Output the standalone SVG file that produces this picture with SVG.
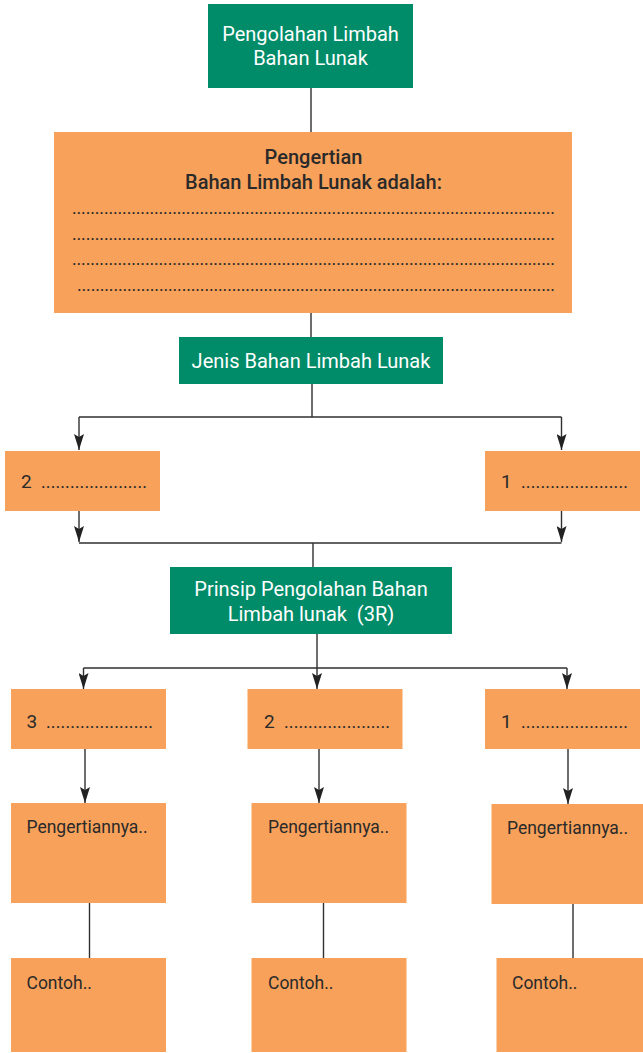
<svg xmlns="http://www.w3.org/2000/svg" width="643" height="1053" viewBox="0 0 643 1053">
<style>
.g{fill:#008b69}
.o{fill:#f7a15a}
.tw{fill:#ffffff;font-family:Roboto,"Liberation Sans",sans-serif;font-size:20px;text-anchor:middle}
.td{fill:#2a2a2a;font-family:Roboto,"Liberation Sans",sans-serif;font-size:20px;font-weight:500;text-anchor:middle}
.ts{fill:#2a2a2a;font-family:Roboto,"Liberation Sans",sans-serif;font-size:17.5px}
.tn{fill:#2a2a2a;font-family:Roboto,"Liberation Sans",sans-serif;font-size:19px}
.dots{fill:#2a2a2a;font-family:Roboto,"Liberation Sans",sans-serif;font-size:18px}
.c{fill:none;stroke:#2f2f2f;stroke-width:1.4}
</style>
<defs>
<marker id="ah" viewBox="0 0 16 10" refX="16" refY="5" markerWidth="16" markerHeight="10" markerUnits="userSpaceOnUse" orient="auto">
<path d="M0,0 L3,5 L0,10 L16,5 Z" fill="#222"/>
</marker>
</defs>
<g id="connectors">
<path class="c" d="M311 88 V132"/>
<path class="c" d="M311 313 V337"/>
<path class="c" d="M312 384 V417"/>
<path class="c" d="M79 417 H561.5"/>
<path class="c" d="M79 417 V450" marker-end="url(#ah)"/>
<path class="c" d="M561.5 417 V450" marker-end="url(#ah)"/>
<path class="c" d="M79 511 V542" marker-end="url(#ah)"/>
<path class="c" d="M561.5 511 V542" marker-end="url(#ah)"/>
<path class="c" d="M79 543 H561.5"/>
<path class="c" d="M313 543 V567"/>
<path class="c" d="M317 634 V689" marker-end="url(#ah)"/>
<path class="c" d="M83.5 668 H567"/>
<path class="c" d="M83.5 668 V689" marker-end="url(#ah)"/>
<path class="c" d="M567 668 V689" marker-end="url(#ah)"/>
<path class="c" d="M85 749 V803" marker-end="url(#ah)"/>
<path class="c" d="M319 749 V803" marker-end="url(#ah)"/>
<path class="c" d="M568 749 V804" marker-end="url(#ah)"/>
<path class="c" d="M89.5 903 V958"/>
<path class="c" d="M323.5 903 V958"/>
<path class="c" d="M573 904 V958"/>
</g>
<g id="n-title">
<rect class="g" x="208" y="4" width="205" height="84"/>
<text class="tw" x="310.5" y="41">Pengolahan Limbah</text>
<text class="tw" x="310.5" y="65">Bahan Lunak</text>
</g>
<g id="n-pengertian">
<rect class="o" x="54" y="132" width="518" height="181"/>
<text class="td" x="313.5" y="163.5">Pengertian</text>
<text class="td" x="313.5" y="188.5">Bahan Limbah Lunak adalah:</text>
<text class="dots" x="72" y="213.5" textLength="483" lengthAdjust="spacing">..........................................................................................................</text>
<text class="dots" x="72" y="239.5" textLength="483" lengthAdjust="spacing">..........................................................................................................</text>
<text class="dots" x="72" y="264.5" textLength="483" lengthAdjust="spacing">..........................................................................................................</text>
<text class="dots" x="77" y="290.5" textLength="478" lengthAdjust="spacing">.........................................................................................................</text>
</g>
<g id="n-jenis">
<rect class="g" x="179" y="337" width="264" height="47"/>
<text class="tw" x="311" y="367.5">Jenis Bahan Limbah Lunak</text>
</g>
<g id="n-jenis2">
<rect class="o" x="5" y="451" width="155" height="60"/>
<text class="tn" x="21" y="488">2<tspan class="dots" x="41" textLength="106" lengthAdjust="spacing">......................</tspan></text>
</g>
<g id="n-jenis1">
<rect class="o" x="485" y="451" width="155" height="60"/>
<text class="tn" x="501" y="488">1<tspan class="dots" x="521" textLength="107" lengthAdjust="spacing">......................</tspan></text>
</g>
<g id="n-prinsip">
<rect class="g" x="170" y="567" width="282" height="67"/>
<text class="tw" x="311" y="595.5">Prinsip Pengolahan Bahan</text>
<text class="tw" x="311" y="620.5" style="white-space:pre">Limbah lunak  (3R)</text>
</g>
<g id="n-r3">
<rect class="o" x="11" y="689" width="155" height="60"/>
<text class="tn" x="26.5" y="727.5">3<tspan class="dots" x="46" textLength="107" lengthAdjust="spacing">......................</tspan></text>
</g>
<g id="n-r2">
<rect class="o" x="247.5" y="689" width="155" height="60"/>
<text class="tn" x="264" y="727.5">2<tspan class="dots" x="284" textLength="106" lengthAdjust="spacing">......................</tspan></text>
</g>
<g id="n-r1">
<rect class="o" x="485" y="689" width="155" height="60"/>
<text class="tn" x="501" y="727.5">1<tspan class="dots" x="521" textLength="107" lengthAdjust="spacing">......................</tspan></text>
</g>
<g id="n-p3">
<rect class="o" x="11" y="803" width="155" height="100"/>
<text class="ts" x="26.5" y="833">Pengertiannya..</text>
</g>
<g id="n-p2">
<rect class="o" x="251.5" y="803" width="155" height="100"/>
<text class="ts" x="268" y="833">Pengertiannya..</text>
</g>
<g id="n-p1">
<rect class="o" x="491.5" y="804" width="151.5" height="100"/>
<text class="ts" x="507" y="834">Pengertiannya..</text>
</g>
<g id="n-c3">
<rect class="o" x="11" y="958" width="155" height="94"/>
<text class="ts" x="26.5" y="988.5">Contoh..</text>
</g>
<g id="n-c2">
<rect class="o" x="251.5" y="958" width="155" height="94"/>
<text class="ts" x="268" y="988.5">Contoh..</text>
</g>
<g id="n-c1">
<rect class="o" x="496.5" y="958" width="146.5" height="94"/>
<text class="ts" x="512" y="988.5">Contoh..</text>
</g>
</svg>
